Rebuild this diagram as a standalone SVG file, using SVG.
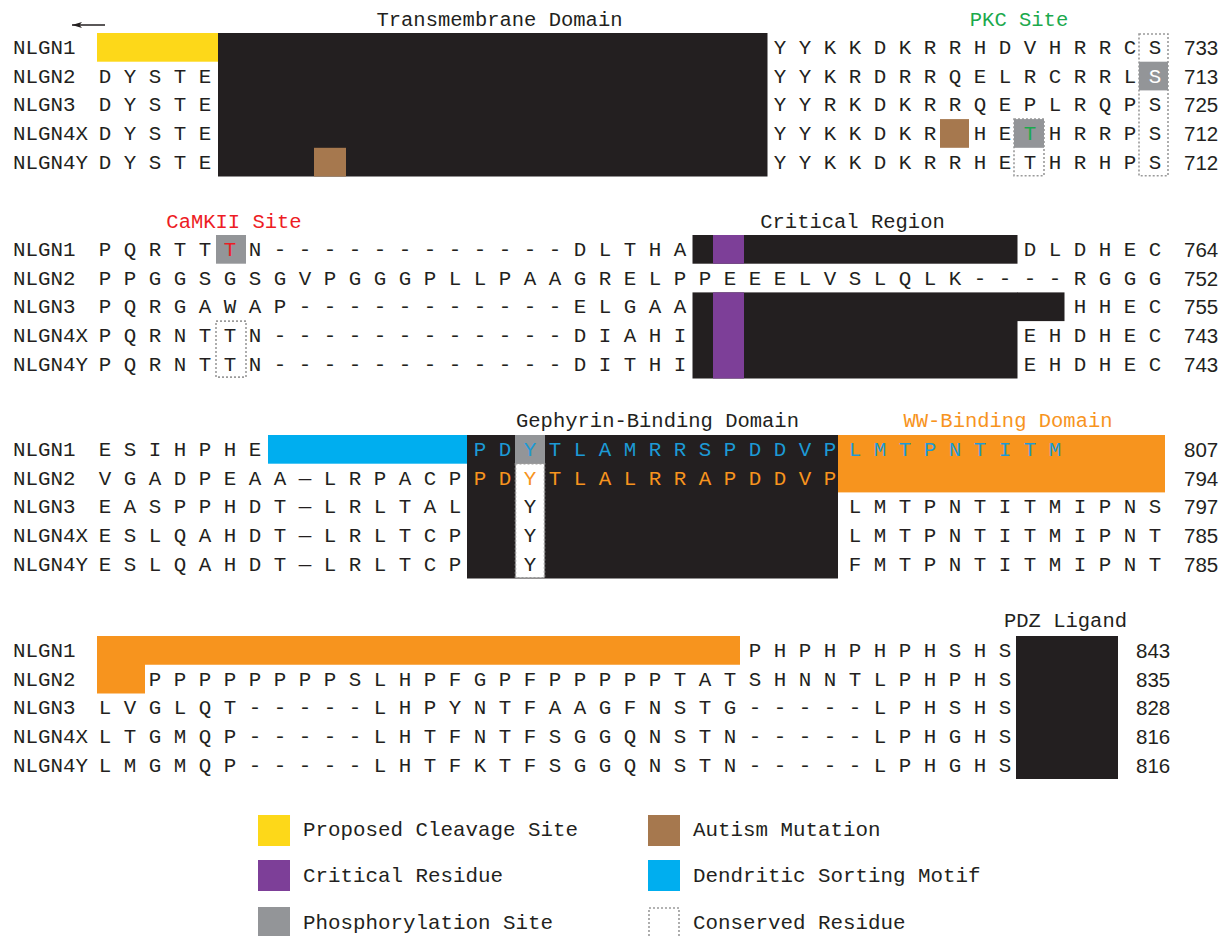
<svg xmlns="http://www.w3.org/2000/svg" width="1229" height="936" viewBox="0 0 1229 936">
<defs>
<marker id="ah" viewBox="0 0 10 6" refX="10" refY="3" markerWidth="10" markerHeight="6" markerUnits="userSpaceOnUse" orient="auto"><path d="M0,0 L10,3 L0,6 L2.5,3 Z" fill="#231F20"/></marker>
</defs>
<style>
text{font-family:"Liberation Mono","Courier New",monospace;font-size:20.83px;fill:#231F20;white-space:pre}
.num{font-family:"Liberation Sans",Arial,sans-serif;font-size:20.5px}
.ttl{text-anchor:middle;font-size:20.5px}
.blk{fill:#231F20}
.yel{fill:#FDD819}
.brn{fill:#A6784E}
.pur{fill:#7D3F98}
.gry{fill:#939598}
.blu{fill:#00AEEF}
.org{fill:#F7941E}
.dot{fill:none;stroke:#9A9A9A;stroke-width:1.6;stroke-dasharray:2 2}
.dotw{fill:#FFFFFF;stroke:#9A9A9A;stroke-width:1.6;stroke-dasharray:2 2}
.tb{fill:#1C9AD6}
.to{fill:#F7941E}
.tg{fill:#1BA94C}
.tr{fill:#ED1C24}
.tw{fill:#FFFFFF}
</style>
<rect width="1229" height="936" fill="#FFFFFF"/>

<g id="connectors">
<line x1="105" y1="25" x2="72" y2="25" stroke="#231F20" stroke-width="1.3" marker-end="url(#ah)"/>
</g>

<g id="titles">
<text class="ttl" x="499.5" y="26">Transmembrane Domain</text>
<text class="ttl tg" x="1019" y="26">PKC Site</text>
<text class="ttl tr" x="234" y="228">CaMKII Site</text>
<text class="ttl" x="852.5" y="228">Critical Region</text>
<text class="ttl" x="657.5" y="427">Gephyrin-Binding Domain</text>
<text class="ttl to" x="1008" y="427">WW-Binding Domain</text>
<text class="ttl" x="1065.5" y="627">PDZ Ligand</text>
</g>

<g id="block1">
<rect class="yel" x="97" y="33" width="121" height="28.7"/>
<rect class="blk" x="218" y="33" width="549.5" height="143.5"/>
<rect class="brn" x="314" y="147.8" width="32" height="28.7"/>
<rect class="brn" x="940" y="119.1" width="29" height="28.7"/>
<rect class="dot" x="1014" y="119.1" width="30" height="56.6"/>
<rect class="gry" x="1014" y="119.1" width="30" height="28.7"/>
<rect class="dot" x="1139" y="34" width="29" height="141.7"/>
<rect class="gry" x="1139" y="61.7" width="29" height="28.7"/>
<text x="13" y="54">NLGN1</text>
<text x="13" y="82.5">NLGN2</text>
<text x="13" y="111.2">NLGN3</text>
<text x="13" y="139.9">NLGN4X</text>
<text x="13" y="168.6">NLGN4Y</text>
<text x="98.75" y="82.5">D Y S T E</text>
<text x="98.75" y="111.2">D Y S T E</text>
<text x="98.75" y="139.9">D Y S T E</text>
<text x="98.75" y="168.6">D Y S T E</text>
<text x="773.75" y="54">Y Y K K D K R R H D V H R R C S</text>
<text x="773.75" y="82.5">Y Y K R D R R Q E L R C R R L</text>
<text class="tw" x="1148.75" y="82.5">S</text>
<text x="773.75" y="111.2">Y Y R K D K R R Q E P L R Q P S</text>
<text x="773.75" y="139.9">Y Y K K D K R</text>
<text x="973.75" y="139.9">H E</text>
<text class="tg" x="1023.75" y="139.9">T</text>
<text x="1048.75" y="139.9">H R R P S</text>
<text x="773.75" y="168.6">Y Y K K D K R R H E T H R H P S</text>
<text class="num" x="1184" y="55">733</text>
<text class="num" x="1184" y="83.5">713</text>
<text class="num" x="1184" y="112.2">725</text>
<text class="num" x="1184" y="140.9">712</text>
<text class="num" x="1184" y="169.6">712</text>
</g>

<g id="block2">
<rect class="gry" x="216" y="235" width="30" height="28.7"/>
<rect class="dot" x="216" y="321.1" width="30" height="56"/>
<rect class="blk" x="692.5" y="235" width="325" height="28.7"/>
<rect class="blk" x="692.5" y="292.4" width="325" height="86.1"/>
<rect class="blk" x="1017" y="292.4" width="47.5" height="28.7"/>
<rect class="pur" x="713" y="235" width="31" height="28.7"/>
<rect class="pur" x="713" y="292.4" width="31" height="86.1"/>
<text x="13" y="255.9">NLGN1</text>
<text x="13" y="284.6">NLGN2</text>
<text x="13" y="313.3">NLGN3</text>
<text x="13" y="342">NLGN4X</text>
<text x="13" y="370.7">NLGN4Y</text>
<text x="98.75" y="255.9">P Q R T T</text>
<text class="tr" x="223.75" y="255.9">T</text>
<text x="248.75" y="255.9">N - - - - - - - - - - - - D L T H A</text>
<text x="1023.75" y="255.9">D L D H E C</text>
<text x="98.75" y="284.6">P P G G S G S G V P G G G P L L P A A G R E L P P E E E L V S L Q L K - - - - R G G G</text>
<text x="98.75" y="313.3">P Q R G A W A P - - - - - - - - - - - E L G A A</text>
<text x="1073.75" y="313.3">H H E C</text>
<text x="98.75" y="342">P Q R N T T N - - - - - - - - - - - - D I A H I</text>
<text x="1023.75" y="342">E H D H E C</text>
<text x="98.75" y="370.7">P Q R N T T N - - - - - - - - - - - - D I T H I</text>
<text x="1023.75" y="370.7">E H D H E C</text>
<text class="num" x="1184" y="256.9">764</text>
<text class="num" x="1184" y="285.6">752</text>
<text class="num" x="1184" y="314.3">755</text>
<text class="num" x="1184" y="343">743</text>
<text class="num" x="1184" y="371.7">743</text>
</g>

<g id="block3">
<rect class="blu" x="268" y="435" width="199.5" height="28.7"/>
<rect class="blk" x="467" y="435" width="371" height="143.5"/>
<rect class="gry" x="515" y="435" width="30" height="28.7"/>
<rect class="dotw" x="515.5" y="463.7" width="29" height="114"/>
<rect class="org" x="838" y="435" width="327" height="57.4"/>
<text x="13" y="455.9">NLGN1</text>
<text x="13" y="484.6">NLGN2</text>
<text x="13" y="513.3">NLGN3</text>
<text x="13" y="542">NLGN4X</text>
<text x="13" y="570.7">NLGN4Y</text>
<text x="98.75" y="455.9">E S I H P H E</text>
<text class="tb" x="473.75" y="455.9">P D Y T L A M R R S P D D V P</text>
<text class="tb" x="848.75" y="455.9">L M T P N T I T M</text>
<text x="98.75" y="484.6">V G A D P E A A — L R P A C P</text>
<text class="to" x="473.75" y="484.6">P D Y T L A L R R A P D D V P</text>
<text x="98.75" y="513.3">E A S P P H D T — L R L T A L</text>
<text x="523.75" y="513.3">Y</text>
<text x="848.75" y="513.3">L M T P N T I T M I P N S</text>
<text x="98.75" y="542">E S L Q A H D T — L R L T C P</text>
<text x="523.75" y="542">Y</text>
<text x="848.75" y="542">L M T P N T I T M I P N T</text>
<text x="98.75" y="570.7">E S L Q A H D T — L R L T C P</text>
<text x="523.75" y="570.7">Y</text>
<text x="848.75" y="570.7">F M T P N T I T M I P N T</text>
<text class="num" x="1184" y="456.9">807</text>
<text class="num" x="1184" y="485.6">794</text>
<text class="num" x="1184" y="514.3">797</text>
<text class="num" x="1184" y="543">785</text>
<text class="num" x="1184" y="571.7">785</text>
</g>

<g id="block4">
<path class="org" d="M97,636 H740 V664.7 H145 V693.4 H97 Z"/>
<rect class="blk" x="1016" y="636" width="102" height="143"/>
<text x="13" y="656.9">NLGN1</text>
<text x="13" y="685.6">NLGN2</text>
<text x="13" y="714.3">NLGN3</text>
<text x="13" y="743">NLGN4X</text>
<text x="13" y="771.7">NLGN4Y</text>
<text x="748.75" y="656.9">P H P H P H P H S H S</text>
<text x="148.75" y="685.6">P P P P P P P P S L H P F G P F P P P P P T A T S H N N T L P H P H S</text>
<text x="98.75" y="714.3">L V G L Q T - - - - - L H P Y N T F A A G F N S T G - - - - - L P H S H S</text>
<text x="98.75" y="743">L T G M Q P - - - - - L H T F N T F S G G Q N S T N - - - - - L P H G H S</text>
<text x="98.75" y="771.7">L M G M Q P - - - - - L H T F K T F S G G Q N S T N - - - - - L P H G H S</text>
<text class="num" x="1136" y="657.9">843</text>
<text class="num" x="1136" y="686.6">835</text>
<text class="num" x="1136" y="715.3">828</text>
<text class="num" x="1136" y="744">816</text>
<text class="num" x="1136" y="772.7">816</text>
</g>

<g id="legend">
<rect class="yel" x="258" y="815" width="32" height="31"/>
<text x="303" y="836">Proposed Cleavage Site</text>
<rect class="pur" x="258" y="860" width="32" height="31"/>
<text x="303" y="882">Critical Residue</text>
<rect class="gry" x="258" y="907" width="32" height="29"/>
<text x="303" y="929">Phosphorylation Site</text>
<rect class="brn" x="648" y="815" width="32" height="31"/>
<text x="693" y="836">Autism Mutation</text>
<rect class="blu" x="648" y="860" width="32" height="31"/>
<text x="693" y="882">Dendritic Sorting Motif</text>
<rect class="dot" x="649" y="908" width="30" height="30"/>
<text x="693" y="929">Conserved Residue</text>
</g>
</svg>
